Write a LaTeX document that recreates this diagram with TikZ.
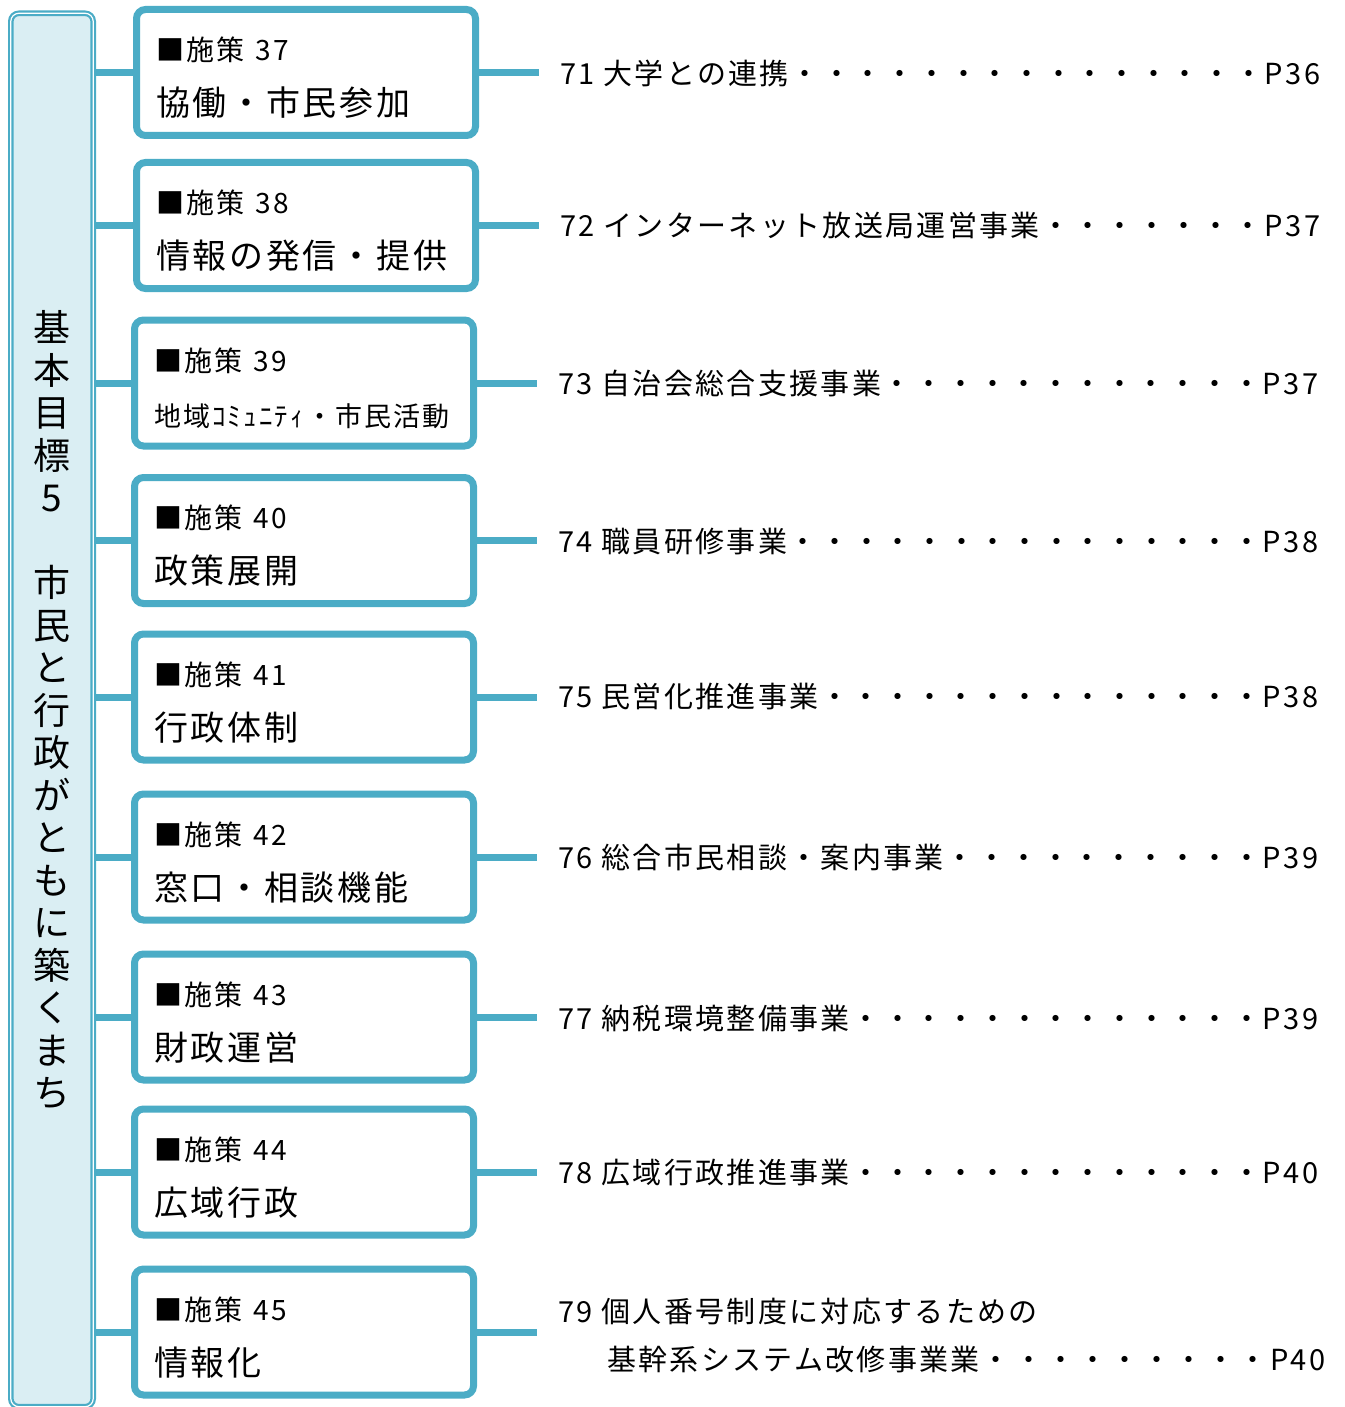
\documentclass[tikz,border=0pt]{standalone}
\usepackage{fontspec}
\setmainfont{Noto Sans CJK JP}[LetterSpace=8]
\definecolor{acc}{HTML}{4BACC6}
\definecolor{barfill}{HTML}{DAEEF3}
\newcommand{\leaderline}[3]{\hbox to #1{#2\xleaders\hbox to 31pt{\hss ・\hss}\hfill #3}}
\newcommand{\boxtitle}[1]{{\fontsize{28}{55}\selectfont\rule{0pt}{34pt}■施策 #1}}
\tikzset{
  box/.style={draw=acc, line width=7pt, rounded corners=9pt, fill=white,
    minimum width=339pt, minimum height=126pt, text width=300pt, inner xsep=19.5pt,
    align=left, font=\fontsize{34}{55}\selectfont},
  link/.style={draw=acc, line width=7pt},
  item/.style={anchor=base west, inner sep=0pt, font=\fontsize{29}{48}\selectfont},
  bar/.style={draw=acc, double=white, line width=2.2pt, double distance=1.2pt,
    fill=barfill, rounded corners=8pt, minimum width=82.4pt, minimum height=1393.4pt,
    inner sep=0pt, align=center, font=\fontsize{37}{42.5}\selectfont}
}
\begin{document}
\begin{tikzpicture}[x=1pt,y=-1pt]
\useasboundingbox (0,0) rectangle (1344,1407);
\clip (0,0) rectangle (1344,1407);
\node[bar] (bar) at (52,710) {基\\本\\目\\標\\5\\\mbox{}\\市\\民\\と\\行\\政\\が\\と\\も\\に\\築\\く\\ま\\ち};

\node[box] (b1) at (306,72.5) {\boxtitle{37}\\協働・市民参加};
\node[box] (b2) at (306,225.5) {\boxtitle{38}\\情報の発信・提供};
\node[box] (b3) at (304,383) {\boxtitle{39}\\{\fontsize{27}{55}\selectfont 地域ｺﾐｭﾆﾃｨ・市民活動}};
\node[box] (b4) at (304,540.5) {\boxtitle{40}\\政策展開};
\node[box] (b5) at (304,697) {\boxtitle{41}\\行政体制};
\node[box] (b6) at (304,857) {\boxtitle{42}\\窓口・相談機能};
\node[box] (b7) at (304,1017) {\boxtitle{43}\\財政運営};
\node[box] (b8) at (304,1172) {\boxtitle{44}\\広域行政};
\node[box] (b9) at (304,1332) {\boxtitle{45}\\情報化};

\foreach \i in {1,...,9} {
  \draw[link] (bar.east |- b\i.west) -- (b\i.west);
}
\coordinate (e1) at (539,72.5);
\coordinate (e2) at (539,225.5);
\coordinate (e3) at (537,383);
\coordinate (e4) at (537,540.5);
\coordinate (e5) at (537,697);
\coordinate (e6) at (537,857);
\coordinate (e7) at (537,1017);
\coordinate (e8) at (537,1172);
\coordinate (e9) at (537,1332);
\foreach \i in {1,...,9} {
  \draw[link] (b\i.east) -- (e\i);
}

\node[item] (t1) at (560,85) {\leaderline{760pt}{71 大学との連携}{P36}};
\node[item] (t2) at (560,236) {\leaderline{760pt}{72 インターネット放送局運営事業}{P37}};
\node[item] (t3) at (558,394) {\leaderline{760pt}{73 自治会総合支援事業}{P37}};
\node[item] (t4) at (558,552) {\leaderline{760pt}{74 職員研修事業}{P38}};
\node[item] (t5) at (558,707) {\leaderline{760pt}{75 民営化推進事業}{P38}};
\node[item] (t6) at (558,868) {\leaderline{760pt}{76 総合市民相談・案内事業}{P39}};
\node[item] (t7) at (558,1029) {\leaderline{760pt}{77 納税環境整備事業}{P39}};
\node[item] (t8) at (558,1183) {\leaderline{760pt}{78 広域行政推進事業}{P40}};
\node[item] (t9) at (558,1322) {79 個人番号制度に対応するための};
\node[item] (t9b) at (607,1370) {\leaderline{718pt}{基幹系システム改修事業業}{P40}};
\end{tikzpicture}
\end{document}
